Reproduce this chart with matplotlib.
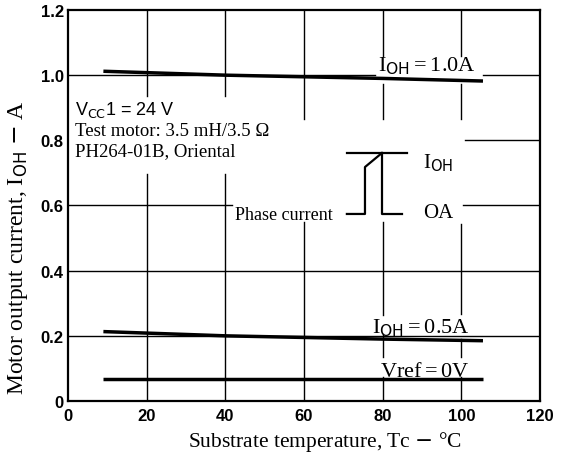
import matplotlib
matplotlib.use("Agg")
import matplotlib.pyplot as plt
import numpy as np

# values
temp = [9, 40, 80, 105.5]
iout_1a = [1.012, 1.0, 0.99, 0.982]
iout_05a = [0.213, 0.200, 0.190, 0.185]
iout_vref0 = [0.068, 0.068, 0.068, 0.068]

xticks = [0, 20, 40, 60, 80, 100, 120]
yticks = [0, 0.2, 0.4, 0.6, 0.8, 1.0, 1.2]
ytick_labels = ["0", "0.2", "0.4", "0.6", "0.8", "1.0", "1.2"]

serif = "Liberation Serif"
sans = "Liberation Sans"

fig = plt.figure(figsize=(5.61, 4.6), dpi=100)
ax = fig.add_axes([0.1212, 0.1261, 0.8414, 0.85])
ax.set_xlim(0, 120)
ax.set_ylim(0, 1.2)

# grid drawn by hand, it is broken where the labels sit
gk = dict(color="black", lw=1.0, zorder=1)
vgrid = {
    20: [(0, 0.697), (0.936, 1.2)],
    40: [(0, 0.697), (0.936, 1.2)],
    60: [(0, 0.549), (0.866, 1.2)],
    80: [(0, 0.075), (0.135, 0.205), (0.265, 0.549), (0.866, 0.973), (1.06, 1.2)],
    100: [(0, 0.075), (0.135, 0.19), (0.267, 0.543), (0.866, 0.973), (1.06, 1.2)],
}
for xv, segs in vgrid.items():
    for y0, y1 in segs:
        ax.plot([xv, xv], [y0, y1], **gk)
hgrid = {
    0.2: [(0, 120)],
    0.4: [(0, 120)],
    0.6: [(0, 41.7), (100.4, 120)],
    0.8: [(101, 120)],
    1.0: [(0, 78), (105.5, 120)],
}
for yv, segs in hgrid.items():
    for x0, x1 in segs:
        ax.plot([x0, x1], [yv, yv], **gk)

# curves
ax.plot(temp, iout_1a, color="black", lw=2.5, solid_capstyle="butt", zorder=3)
ax.plot(temp, iout_05a, color="black", lw=2.5, solid_capstyle="butt", zorder=3)
ax.plot(temp, iout_vref0, color="black", lw=2.5, solid_capstyle="butt", zorder=3)

# curve labels
ax.text(78.8, 1.015, r"I$_{\rm OH}$$\,$=$\,$1.0A", family=serif, fontsize=16, va="baseline")
ax.text(77.3, 0.212, r"I$_{\rm OH}$$\,$=$\,$0.5A", family=serif, fontsize=16, va="baseline")
ax.text(79.3, 0.078, r"Vref$\,$=$\,$0V", family=serif, fontsize=16, va="baseline")

# phase current waveform sketch
wk = dict(color="black", lw=1.6, zorder=3)
ax.plot([70.9, 86.2], [0.761, 0.761], **wk)
ax.plot([70.9, 75.5, 75.5, 79.8], [0.574, 0.574, 0.718, 0.761], **wk)
ax.plot([79.8, 79.8, 84.9], [0.761, 0.574, 0.574], **wk)
ax.text(90.3, 0.718, r"I$_{\rm OH}$", family=serif, fontsize=15, va="baseline")
ax.text(90.3, 0.565, "OA", family=serif, fontsize=15, va="baseline")
ax.text(42.5, 0.559, "Phase current", family=serif, fontsize=13, va="baseline")

# test conditions
ax.text(1.8, 0.881, r"V$_{\rm CC}$1 = 24 V", family=sans, fontsize=13, va="baseline")
ax.text(1.8, 0.817, "Test motor: 3.5 mH/3.5 \u03a9", family=serif, fontsize=13.5, va="baseline")
ax.text(1.8, 0.755, "PH264-01B, Oriental", family=serif, fontsize=13.5, va="baseline")

ax.set_xticks(xticks)
ax.set_yticks(yticks)
ax.set_yticklabels(ytick_labels)
ax.tick_params(length=0, pad=5, labelsize=12)
for lab in ax.get_xticklabels() + ax.get_yticklabels():
    lab.set_fontfamily(sans)
    lab.set_fontweight("bold")
ax.tick_params(axis="y", pad=3)

for s in ax.spines.values():
    s.set_linewidth(1.6)

ax.set_xlabel(r"Substrate temperature, Tc $-$ °C", family=serif, fontsize=15.5)
ax.set_ylabel(r"Motor output current, I$_{\rm OH}$ $-$ A", family=serif, fontsize=17)
ax.xaxis.set_label_coords(0.545, -0.102)
ax.yaxis.set_label_coords(-0.106, 0.396)
ax.xaxis.label.set_va("center")
ax.yaxis.label.set_va("center")

fig.savefig("out.png", dpi=100)
